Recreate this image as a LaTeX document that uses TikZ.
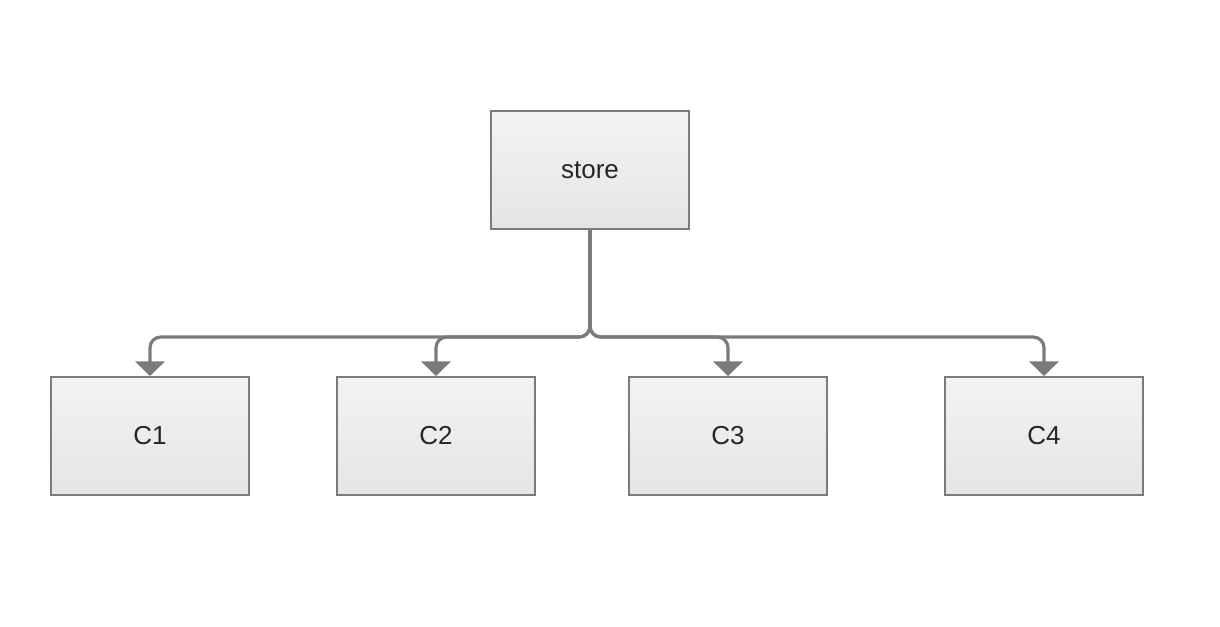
\documentclass[tikz,border=0pt]{standalone}
\usepackage{fontspec}
\setmainfont{Liberation Sans}
\usetikzlibrary{arrows.meta}
\definecolor{boxtop}{HTML}{F3F3F3}
\definecolor{boxbot}{HTML}{E5E5E5}
\definecolor{edgegray}{HTML}{7B7B7B}
\tikzset{
  compbox/.style={draw=edgegray, line width=1.5pt, top color=boxtop, bottom color=boxbot,
    minimum width=148.5pt, minimum height=88.5pt, inner sep=0pt, font=\fontsize{19.5}{23}\selectfont, text=black!85},
  feed/.style={draw=edgegray, line width=2.4pt, rounded corners=8pt,
    -{Triangle[width=22pt, length=11pt]}}
}
\begin{document}
\begin{tikzpicture}[x=0.75pt,y=-0.75pt]
\useasboundingbox (0,0) rectangle (1220,626);
\node[compbox] (store) at (590,170) {store};
% children on one row
\foreach \name/\x in {C1/150,C2/436,C3/728,C4/1044} {
  \node[compbox] (\name) at (\x,436) {\name};
}
\coordinate (bus) at (590,337);
\foreach \name in {C1,C2,C3,C4} {
  \draw[feed] (store.south) |- (bus) -| (\name.north);
}
\end{tikzpicture}
\end{document}
